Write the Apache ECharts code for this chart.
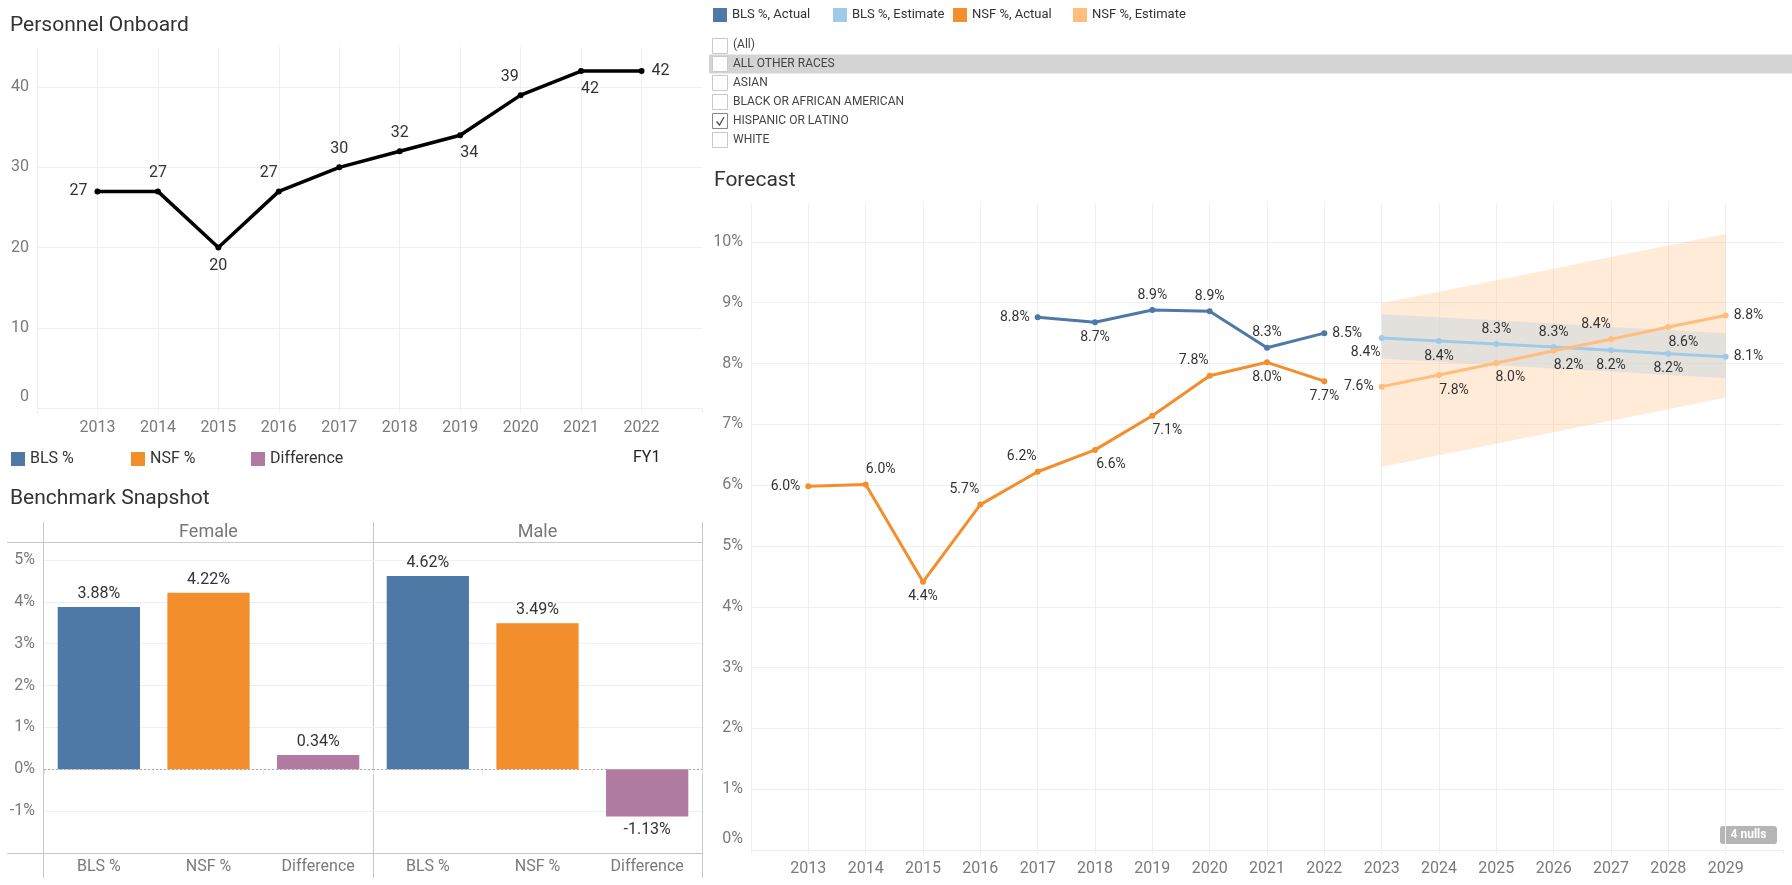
<!DOCTYPE html>
<html>
<head>
<meta charset="utf-8">
<script src="https://cdn.jsdelivr.net/npm/echarts@6/dist/echarts.min.js"></script>
<style>html,body{margin:0;padding:0;background:#fff}#c{width:1792px;height:885px}</style>
</head>
<body>
<div id="c"></div>
<script>
// ---------------- DATA ----------------
const personnelYears = [2013, 2014, 2015, 2016, 2017, 2018, 2019, 2020, 2021, 2022];
const personnelValues = [27, 27, 20, 27, 30, 32, 34, 39, 42, 42];

const benchCategories = ['BLS %', 'NSF %', 'Difference'];
const panelHeaders = ['Female', 'Male'];
const femaleValues = [3.88, 4.22, 0.34];
const maleValues = [4.62, 3.49, -1.13];

const forecastYearsActual = [2013, 2014, 2015, 2016, 2017, 2018, 2019, 2020, 2021, 2022];
const blsActual = [null, null, null, null, 8.76, 8.68, 8.88, 8.86, 8.26, 8.50];
const nsfActual = [5.98, 6.01, 4.41, 5.68, 6.22, 6.58, 7.14, 7.80, 8.02, 7.71];

const forecastYearsEstimate = [2023, 2024, 2025, 2026, 2027, 2028, 2029];
const blsEstimate = [8.42, 8.37, 8.32, 8.27, 8.22, 8.16, 8.11];
const blsEstimateLow = [8.08, 8.03, 7.97, 7.92, 7.87, 7.81, 7.76];
const blsEstimateHigh = [8.81, 8.76, 8.71, 8.66, 8.60, 8.55, 8.50];
const nsfEstimate = [7.62, 7.81, 8.01, 8.21, 8.40, 8.60, 8.79];
const nsfEstimateLow = [6.30, 6.49, 6.68, 6.87, 7.06, 7.25, 7.44];
const nsfEstimateHigh = [8.99, 9.18, 9.37, 9.56, 9.75, 9.94, 10.13];

const raceOptions = ['(All)', 'ALL OTHER RACES', 'ASIAN', 'BLACK OR AFRICAN AMERICAN', 'HISPANIC OR LATINO', 'WHITE'];
const raceChecked = 'HISPANIC OR LATINO';
const raceHighlighted = 'ALL OTHER RACES';
const nullCount = 4;
const fiscalLabel = 'FY1';

// ---------------- STYLE ----------------
const FONT = "Roboto, 'Noto Sans', sans-serif";
const GREY = '#7a7a7a';
const GRID_C = '#efefef';
const C_BLS = '#4e79a7', C_NSF = '#f28e2b', C_DIFF = '#b07aa1';
const C_BLS_EST = '#a0cbe8', C_NSF_EST = '#ffbe7d';

// label placements [position, x-offset]
const personnelPlace = [['left',0],['top',0],['bottom',0],['top',-10],['top',0],['top',0],['bottom',9],['top',-11],['bottom',9],['right',0]];
const blsActualPlace = [null,null,null,null,['left',0],['bottom',0],['top',0],['top',0],['top',0],['right',0]];
const nsfActualPlace = [['left',0],['top',15],['bottom',0],['top',-16],['top',-16],['bottom',16],['bottom',15],['top',-16],['bottom',0],['bottom',0]];
const blsEstPlace = [['bottom',-16],['bottom',0],['top',0],['top',0],['bottom',0],['bottom',0],['right',0]];
const nsfEstPlace = [['left',0],['bottom',15],['bottom',14],['bottom',15],['top',-15],['bottom',15],['right',0]];

const zRich = {z: {fontSize: 16, color: GREY, fontFamily: FONT, padding: [0, 0, 22, 0]}};

function lineSeries(name, years, vals, color, place) {
  const data = [];
  years.forEach((y, i) => {
    if (vals[i] == null) return;
    data.push({value: [y, vals[i]], label: {position: place[i][0], offset: [place[i][1], 0]}});
  });
  return {
    type: 'line', name, xAxisIndex: 3, yAxisIndex: 3, symbol: 'circle', symbolSize: 6,
    color, lineStyle: {width: 3, color}, itemStyle: {color}, z: 3,
    label: {show: true, fontSize: 14, color: '#333', fontFamily: FONT, distance: 5,
      formatter: p => p.value[1].toFixed(1) + '%'},
    data
  };
}

function bandSeries(name, years, low, high, fill) {
  return {
    type: 'custom', name, xAxisIndex: 3, yAxisIndex: 3, silent: true, z: 1,
    data: years.map((y, i) => [y, low[i], high[i]]),
    encode: {x: 0, y: [1, 2]},
    renderItem: (params, api) => {
      if (params.dataIndex !== 0) return null;
      const top = years.map((y, i) => api.coord([y, high[i]]));
      const bot = years.map((y, i) => api.coord([y, low[i]])).reverse();
      return {type: 'polygon', shape: {points: top.concat(bot)}, style: {fill}};
    }
  };
}

const barColors = {'BLS %': C_BLS, 'NSF %': C_NSF, 'Difference': C_DIFF};
function barSeries(idx, vals, grid) {
  const name = benchCategories[idx];
  const s = {
    type: 'bar', name, xAxisIndex: grid, yAxisIndex: grid, barWidth: '75%', barGap: '-100%',
    itemStyle: {color: barColors[name]},
    label: {show: true, fontSize: 16, color: '#333', fontFamily: FONT, distance: 5,
      formatter: p => Number(p.value).toFixed(2) + '%'},
    data: vals.map((v, i) => i === idx ? {value: v, label: {position: v < 0 ? 'bottom' : 'top'}} : '-')
  };
  if (idx === 0) {
    s.markLine = {silent: true, symbol: 'none', label: {show: false},
      lineStyle: {type: [2, 2], color: '#aaa', width: 1}, data: [{yAxis: 0}]};
  }
  return s;
}

const baseAxisLabel = {color: GREY, fontSize: 16, fontFamily: FONT};

const gridDefs = [
  {left: 37, top: 47, width: 665, height: 361},
  {left: 44, top: 542, width: 329, height: 311},
  {left: 373, top: 542, width: 329, height: 311},
  {left: 751, top: 203, width: 1032, height: 647}
].map(g => Object.assign(g, {containLabel: false, outerBoundsMode: 'none', show: false}));

const benchY = (show) => ({
  type: 'value', min: -2, max: 5.43, interval: 1,
  axisLine: {show: false}, axisTick: {show: false},
  axisLabel: Object.assign({}, baseAxisLabel, {show, margin: 9,
    formatter: v => (Number.isInteger(v) && v > -2) ? v + '%' : ''}),
  splitLine: {show: true, showMinLine: false, showMaxLine: false, lineStyle: {color: GRID_C}}
});

const benchX = {
  type: 'category', data: benchCategories,
  axisLine: {show: false},
  axisTick: {show: true, length: 5, lineStyle: {color: '#e8e8e8'}},
  axisLabel: Object.assign({}, baseAxisLabel, {margin: 6}),
  splitLine: {show: false}
};

// ---------------- GRAPHIC (filter list, table borders, badges) ----------------
const graphic = [];
const BORDER = '#c8c8c8';
[[7, 542.5, 702, 542.5], [7, 853.5, 702, 853.5], [43.5, 522, 43.5, 878], [373.5, 522, 373.5, 878], [702.5, 522, 702.5, 878]]
  .forEach(l => graphic.push({type: 'line', silent: true, shape: {x1: l[0], y1: l[1], x2: l[2], y2: l[3]}, style: {stroke: BORDER, lineWidth: 1}}));
panelHeaders.forEach((h, i) => graphic.push({type: 'text', silent: true, x: 208.5 + i * 329, y: 532,
  style: {text: h, fontSize: 18, fontFamily: FONT, fill: '#777', align: 'center', verticalAlign: 'middle', textAlign: 'center', textVerticalAlign: 'middle'}}));
graphic.push({type: 'text', silent: true, x: 633, y: 458,
  style: {text: fiscalLabel, fontSize: 16, fontFamily: FONT, fill: '#222', verticalAlign: 'middle', textVerticalAlign: 'middle'}});

raceOptions.forEach((r, i) => {
  const cy = 45 + i * 18.9;
  if (r === raceHighlighted) {
    graphic.push({type: 'rect', silent: true, shape: {x: 709, y: cy - 9.5, width: 1083, height: 19}, style: {fill: '#d4d4d4'}});
  }
  const by = Math.round(cy - 7.5) + 0.5;
  graphic.push({type: 'rect', silent: true, shape: {x: 712.5, y: by, width: 15, height: 15},
    style: {fill: '#fff', stroke: r === raceChecked ? '#8a8a8a' : '#c8c8c8', lineWidth: 1}});
  if (r === raceChecked) {
    graphic.push({type: 'polyline', silent: true, shape: {points: [[716.5, by + 8], [719.5, by + 11.5], [724, by + 3.5]]},
      style: {stroke: '#555', lineWidth: 1.4, fill: null}});
  }
  graphic.push({type: 'text', silent: true, x: 733, y: cy,
    style: {text: r, fontSize: 12, fontFamily: FONT, fill: '#444', verticalAlign: 'middle', textVerticalAlign: 'middle'}});
});

graphic.push({type: 'rect', silent: true, shape: {x: 1720, y: 826, width: 57, height: 18, r: 3}, style: {fill: '#b5b5b5'}});
graphic.push({type: 'text', silent: true, x: 1748.5, y: 835,
  style: {text: nullCount + ' nulls', fontSize: 12, fontWeight: 'bold', fontFamily: FONT, fill: '#fff',
    align: 'center', verticalAlign: 'middle', textAlign: 'center', textVerticalAlign: 'middle'}});

// ---------------- LEGENDS ----------------
function legendAt(name, left, top, size, fontSize) {
  return {data: [name], left, top, padding: 0, itemGap: 0, icon: 'rect', itemWidth: size, itemHeight: size,
    selectedMode: false, textStyle: {fontSize, color: '#333', fontFamily: FONT, lineHeight: size}};
}

const titleStyle = {fontSize: 21, fontWeight: 'normal', color: '#333', fontFamily: FONT};

const option = {
  animation: false,
  backgroundColor: '#fff',
  textStyle: {fontFamily: FONT},
  title: [
    {text: 'Personnel Onboard', left: 10, top: 15, padding: 0, textStyle: titleStyle},
    {text: 'Benchmark Snapshot', left: 10, top: 488, padding: 0, textStyle: titleStyle},
    {text: 'Forecast', left: 714, top: 170, padding: 0, textStyle: titleStyle}
  ],
  legend: [
    legendAt('BLS %', 11, 451, 14, 16),
    legendAt('NSF %', 131, 451, 14, 16),
    legendAt('Difference', 251, 451, 14, 16),
    legendAt('BLS %, Actual', 713, 8, 14, 13),
    legendAt('BLS %, Estimate', 833, 8, 14, 13),
    legendAt('NSF %, Actual', 953, 8, 14, 13),
    legendAt('NSF %, Estimate', 1073, 8, 14, 13)
  ],
  grid: gridDefs,
  xAxis: [
    {gridIndex: 0, type: 'value', min: 2012, max: 2023, interval: 1,
      axisLine: {show: false}, axisTick: {show: true, length: 5, lineStyle: {color: GRID_C}},
      axisLabel: Object.assign({}, baseAxisLabel, {margin: 12, formatter: v => (v >= 2013 && v <= 2022) ? String(v) : ''}),
      splitLine: {show: true, showMaxLine: false, lineStyle: {color: GRID_C}}},
    Object.assign({gridIndex: 1}, benchX),
    Object.assign({gridIndex: 2}, benchX),
    {gridIndex: 3, type: 'value', min: 2012, max: 2030, interval: 1,
      axisLine: {show: false}, axisTick: {show: true, length: 4, lineStyle: {color: GRID_C}},
      axisLabel: Object.assign({}, baseAxisLabel, {margin: 11, formatter: v => (v >= 2013 && v <= 2029) ? String(v) : ''}),
      splitLine: {show: true, showMaxLine: false, lineStyle: {color: GRID_C}}}
  ],
  yAxis: [
    {gridIndex: 0, type: 'value', min: 0, max: 45, interval: 10,
      axisLine: {show: false}, axisTick: {show: false},
      axisLabel: Object.assign({}, baseAxisLabel, {margin: 8, rich: zRich,
        formatter: v => (v % 10 !== 0) ? '' : (v === 0 ? '{z|0}' : String(v))}),
      splitLine: {show: true, showMaxLine: false, lineStyle: {color: GRID_C}}},
    Object.assign({gridIndex: 1}, benchY(true)),
    Object.assign({gridIndex: 2}, benchY(false)),
    {gridIndex: 3, type: 'value', min: 0, max: 10.64, interval: 1,
      axisLine: {show: false}, axisTick: {show: false},
      axisLabel: Object.assign({}, baseAxisLabel, {margin: 8, rich: zRich,
        formatter: v => !Number.isInteger(v) ? '' : (v === 0 ? '{z|0%}' : v + '%')}),
      splitLine: {show: true, showMaxLine: false, lineStyle: {color: GRID_C}}}
  ],
  series: [
    {type: 'line', name: 'Personnel Onboard', xAxisIndex: 0, yAxisIndex: 0, symbol: 'circle', symbolSize: 6,
      lineStyle: {color: '#000', width: 3.5}, itemStyle: {color: '#000'},
      label: {show: true, distance: 7, fontSize: 16, color: '#333', fontFamily: FONT, formatter: p => p.value[1]},
      data: personnelYears.map((y, i) => ({value: [y, personnelValues[i]],
        label: {position: personnelPlace[i][0], offset: [personnelPlace[i][1], 0]}}))},
    barSeries(0, femaleValues, 1), barSeries(1, femaleValues, 1), barSeries(2, femaleValues, 1),
    barSeries(0, maleValues, 2), barSeries(1, maleValues, 2), barSeries(2, maleValues, 2),
    bandSeries('NSF band', forecastYearsEstimate, nsfEstimateLow, nsfEstimateHigh, 'rgba(255,190,125,0.3)'),
    bandSeries('BLS band', forecastYearsEstimate, blsEstimateLow, blsEstimateHigh, 'rgba(210,219,223,0.6)'),
    lineSeries('BLS %, Actual', forecastYearsActual, blsActual, C_BLS, blsActualPlace),
    lineSeries('NSF %, Actual', forecastYearsActual, nsfActual, C_NSF, nsfActualPlace),
    lineSeries('BLS %, Estimate', forecastYearsEstimate, blsEstimate, C_BLS_EST, blsEstPlace),
    lineSeries('NSF %, Estimate', forecastYearsEstimate, nsfEstimate, C_NSF_EST, nsfEstPlace)
  ],
  graphic: graphic
};

const chart = echarts.init(document.getElementById('c'), null, {renderer: 'canvas', width: 1792, height: 885});
chart.setOption(option);
</script>
</body>
</html>
